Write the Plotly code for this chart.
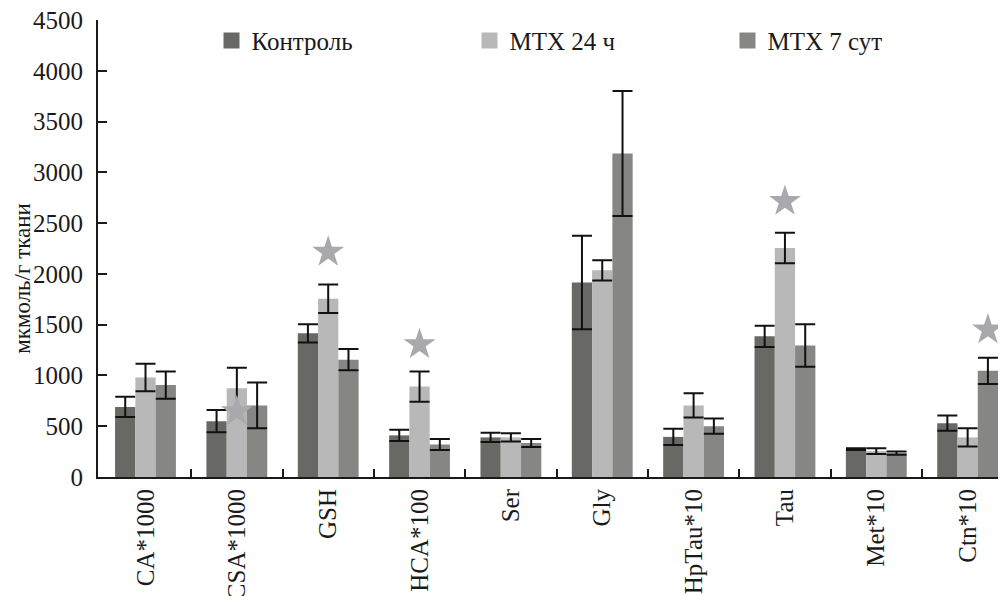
import plotly.graph_objects as go

categories = ["CA*1000", "CSA*1000", "GSH", "HCA*100", "Ser", "Gly", "HpTau*10", "Tau", "Met*10", "Ctn*10"]
series_names = ["Контроль", "MTX 24 ч", "MTX 7 сут"]
control = [690, 550, 1415, 410, 390, 1915, 395, 1385, 275, 530]
control_err = [100, 110, 90, 55, 45, 460, 80, 105, 8, 75]
mtx24 = [980, 875, 1755, 890, 390, 2035, 705, 2255, 255, 390]
mtx24_err = [135, 200, 140, 150, 40, 100, 120, 150, 28, 90]
mtx7 = [905, 705, 1155, 320, 335, 3185, 500, 1295, 235, 1045]
mtx7_err = [135, 225, 105, 55, 40, 615, 75, 210, 15, 130]
y_ticks = [0, 500, 1000, 1500, 2000, 2500, 3000, 3500, 4000, 4500]
y_title = "мкмоль/г ткани"
# significance stars: (category index, series index, value)
star_cat = [1, 2, 3, 7, 9]
star_series = [1, 1, 1, 1, 2]
star_val = [645, 2215, 1305, 2715, 1450]

colors = ["#686864", "#b8b8b8", "#868684"]
FONT = "Liberation Serif"

xs = list(range(len(categories)))
bar_w = 0.222
fig = go.Figure()
for name, vals, errs, col in zip(series_names, [control, mtx24, mtx7],
                                 [control_err, mtx24_err, mtx7_err], colors):
    fig.add_trace(go.Bar(
        x=xs, y=vals, name=name, marker=dict(color=col, line=dict(width=0)),
        error_y=dict(type="data", array=errs, color="#111111", thickness=2, width=10),
        showlegend=False,
    ))
    fig.add_trace(go.Scatter(
        x=[None], y=[None], mode="markers", name=name,
        marker=dict(symbol="square", size=16, color=col),
    ))

star_x = [c + (s - 1) * bar_w for c, s in zip(star_cat, star_series)]
fig.add_trace(go.Scatter(
    x=star_x, y=star_val, mode="markers", showlegend=False, cliponaxis=False,
    marker=dict(symbol="star", size=24, color="#a9a9ad", line=dict(width=0)),
))

fig.add_annotation(
    text=y_title, xref="paper", yref="paper", x=-0.083, y=0.435,
    xanchor="center", yanchor="middle", textangle=-90, showarrow=False,
    font=dict(family=FONT, size=23, color="#1a1a1a"),
)

fig.update_layout(
    width=998, height=588,
    margin=dict(l=90, r=0, t=12, b=119, autoexpand=False),
    paper_bgcolor="white", plot_bgcolor="white",
    barmode="group", bargap=0.334, bargroupgap=0,
    font=dict(family=FONT, size=25, color="#1a1a1a"),
    legend=dict(orientation="h", x=0.125, y=1.005, xanchor="left", yanchor="top",
                entrywidth=213, entrywidthmode="pixels",
                font=dict(family=FONT, size=25, color="#1a1a1a"),
                bgcolor="rgba(0,0,0,0)", itemwidth=30),
    xaxis=dict(range=[-0.52, 9.42], tickmode="array", tickvals=xs, ticktext=categories,
               tickangle=-90, ticks="", showline=True, linecolor="#1a1a1a", linewidth=2,
               showgrid=False, zeroline=False, automargin=False, ticklabelstandoff=0,
               ticklabeloverflow="allow",
               tickfont=dict(family=FONT, size=25),
               minor=dict(tickmode="array", tickvals=[i + 0.5 for i in xs[:-1]],
                          ticks="inside", ticklen=8, tickwidth=1.5, tickcolor="#1a1a1a")),
    yaxis=dict(range=[0, 4500], tickmode="array", tickvals=y_ticks,
               ticks="inside", ticklen=9, tickwidth=1.5, tickcolor="#1a1a1a",
               showline=True, linecolor="#1a1a1a", linewidth=2, showgrid=False,
               zeroline=False, automargin=False, ticklabelstandoff=8,
               ticklabeloverflow="allow",
               tickfont=dict(family=FONT, size=25)),
)

fig.write_html("out.html")
